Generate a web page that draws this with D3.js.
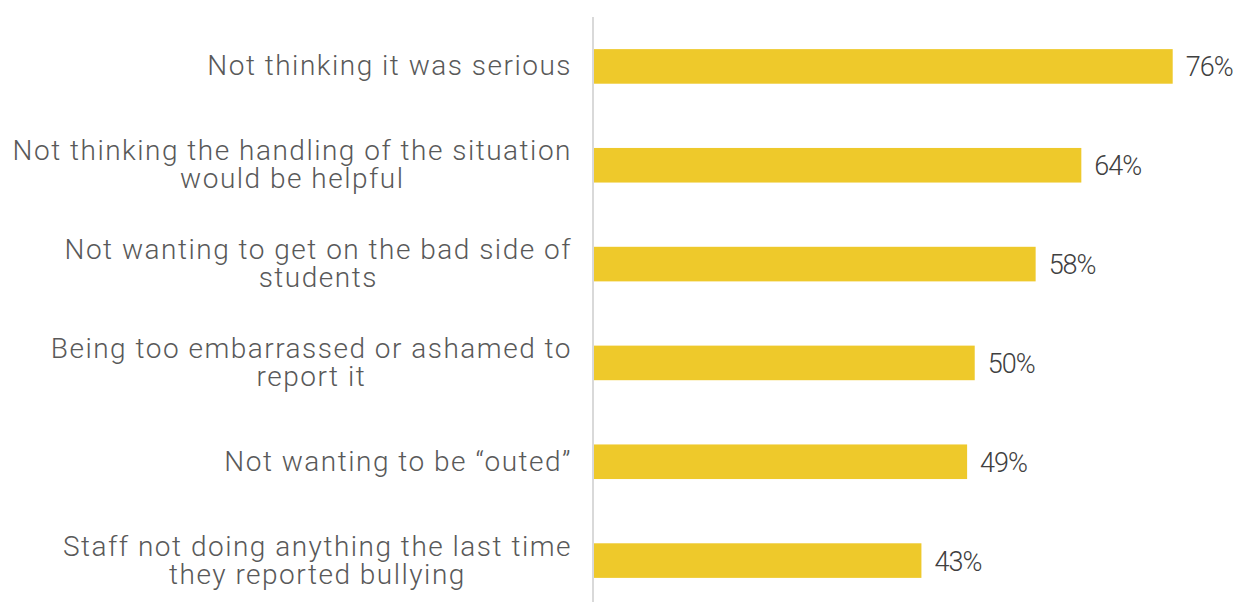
<!DOCTYPE html>
<html lang="en">
<head>
<meta charset="utf-8">
<title>Reasons for not reporting</title>
<script src="https://cdn.jsdelivr.net/npm/d3@7"></script>
<style>
  body { margin: 0; background: #fff; }
  .label { fill: #595959; font-family: Roboto, "Noto Sans", sans-serif; font-weight: 300; font-size: 28px; letter-spacing: 1.5px; }
  .valeur { fill: #404040; font-family: Roboto, "Noto Sans", sans-serif; font-weight: 300; font-size: 27px; letter-spacing: -1px; }
  .axe { stroke: #d9d9d9; stroke-width: 2px; shape-rendering: crispEdges; }
  .barre { fill: #eec92b; }
</style>
</head>
<body>
<svg width="1235" height="602"></svg>
<script>
// categories (each split into its displayed lines)
const categories = [
  ["Not thinking it was serious"],
  ["Not thinking the handling of the situation", "would be helpful"],
  ["Not wanting to get on the bad side of", "students"],
  ["Being too embarrassed or ashamed to", "report it"],
  ["Not wanting to be \u201couted\u201d"],
  ["Staff not doing anything the last time", "they reported bullying"]
];
const valeurs = [76, 64, 58, 50, 49, 43];
const etiquettes = ["76%", "64%", "58%", "50%", "49%", "43%"];

const svg = d3.select("svg");

const x = d3.scaleLinear().domain([0, 76]).range([594, 1172.7]);
const y = d3.scaleBand()
  .domain(d3.range(categories.length))
  .range([17, 610])
  .paddingInner(0.65)
  .paddingOuter(0.325);

// barres
svg.selectAll("rect.barre")
  .data(valeurs)
  .enter()
  .append("rect")
    .classed("barre", true)
    .attr("x", x(0))
    .attr("y", (d, i) => y(i))
    .attr("width", d => x(d) - x(0))
    .attr("height", y.bandwidth());

// axe vertical
svg.append("line")
  .classed("axe", true)
  .attr("x1", x(0) - 1).attr("x2", x(0) - 1)
  .attr("y1", 17).attr("y2", 602);

// libellés : bloc aligné à droite, lignes centrées entre elles
const libelles = svg.selectAll("g.label")
  .data(categories)
  .enter()
  .append("g");

libelles.each(function (lignes, i) {
  const centre = y(i) + y.bandwidth() / 2;
  const debut = centre + 9 - (lignes.length - 1) * 14;
  const txt = d3.select(this).append("text")
    .classed("label", true)
    .attr("text-anchor", "middle");
  const spans = txt.selectAll("tspan")
    .data(lignes)
    .enter()
    .append("tspan")
      .attr("y", (l, j) => debut + j * 28)
      .text(l => l);
  let large = 0;
  spans.each(function () { large = Math.max(large, this.getComputedTextLength()); });
  spans.attr("x", 572 - large / 2);
});

// valeurs
svg.selectAll("text.valeur")
  .data(valeurs)
  .enter()
  .append("text")
    .classed("valeur", true)
    .attr("x", d => x(d) + 13)
    .attr("y", (d, i) => y(i) + y.bandwidth() / 2 + 10)
    .text((d, i) => etiquettes[i]);
</script>
</body>
</html>
